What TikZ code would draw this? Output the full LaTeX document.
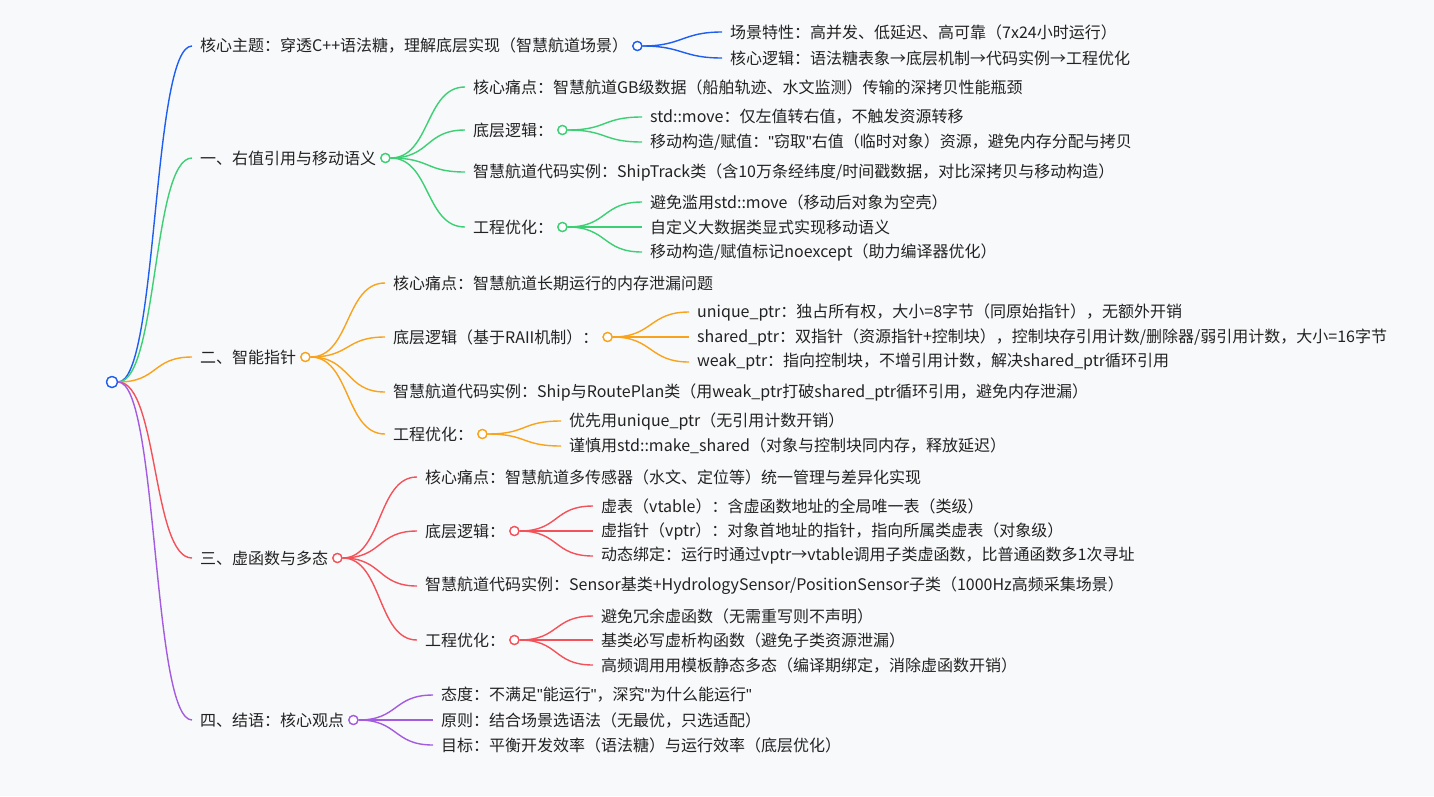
\documentclass[tikz,border=0pt]{standalone}
\usepackage{fontspec}
\setmainfont{Noto Sans CJK SC}
\newfontfamily\qf{Liberation Sans}
\newcommand{\q}{{\qf\symbol{34}}}
\definecolor{cb}{HTML}{1F5FF0}
\definecolor{cg}{HTML}{3CCF74}
\definecolor{co}{HTML}{F8A31B}
\definecolor{cr}{HTML}{F4525A}
\definecolor{cp}{HTML}{A35CE0}
\definecolor{tx}{HTML}{222222}
\definecolor{bg}{HTML}{F8F9FB}
\newcommand{\mt}[4]{\node[txt] (#1) at (#2,#3) {#4};}
\newcommand{\mc}[3]{\node[dot,draw=#3] (#1c) at ([xshift=9]#1.east) {};}
\newcommand{\me}[3]{\draw[edge,#3] (#1.east) .. controls +(40,0) and +(-40,0) .. ([xshift=-8]#2.west);}
\begin{document}
\begin{tikzpicture}[x=1pt,y=-1pt,
  txt/.style={anchor=west,inner sep=0pt,font=\fontsize{16pt}{18pt}\selectfont,text=tx},
  dot/.style={circle,fill=white,line width=1.3pt,minimum size=9pt,inner sep=0pt},
  edge/.style={line width=1.4pt}]
\fill[bg] (0,0) rectangle (1434,796);
\useasboundingbox (0,0) rectangle (1434,796);
% level 1
\mt{a}{200}{46}{核心主题：穿透C++语法糖，理解底层实现（智慧航道场景）}
\mt{b}{200}{158}{一、右值引用与移动语义}
\mt{c}{200}{357}{二、智能指针}
\mt{d}{200}{558}{三、虚函数与多态}
\mt{e}{200}{720}{四、结语：核心观点}
% branch a
\mt{a1}{730}{32}{场景特性：高并发、低延迟、高可靠（7x24小时运行）}
\mt{a2}{730}{58}{核心逻辑：语法糖表象→底层机制→代码实例→工程优化}
% branch b
\mt{b1}{473}{87}{核心痛点：智慧航道GB级数据（船舶轨迹、水文监测）传输的深拷贝性能瓶颈}
\mt{b2}{473}{130}{底层逻辑：}
\mt{b3}{473}{172}{智慧航道代码实例：ShipTrack类（含10万条经纬度/时间戳数据，对比深拷贝与移动构造）}
\mt{b4}{473}{227}{工程优化：}
\mt{b21}{650}{117}{std::move：仅左值转右值，不触发资源转移}
\mt{b22}{650}{142}{移动构造/赋值：\q 窃取\q 右值（临时对象）资源，避免内存分配与拷贝}
\mt{b41}{650}{202}{避免滥用std::move（移动后对象为空壳）}
\mt{b42}{650}{227}{自定义大数据类显式实现移动语义}
\mt{b43}{650}{252}{移动构造/赋值标记noexcept（助力编译器优化）}
% branch c
\mt{c1}{393}{283}{核心痛点：智慧航道长期运行的内存泄漏问题}
\mt{c2}{393}{337}{底层逻辑（基于RAII机制）：}
\mt{c3}{393}{392}{智慧航道代码实例：Ship与RoutePlan类（用weak\_ptr打破shared\_ptr循环引用，避免内存泄漏）}
\mt{c4}{393}{434}{工程优化：}
\mt{c21}{697}{312}{unique\_ptr：独占所有权，大小=8字节（同原始指针），无额外开销}
\mt{c22}{697}{337}{shared\_ptr：双指针（资源指针+控制块），控制块存引用计数/删除器/弱引用计数，大小=16字节}
\mt{c23}{697}{362}{weak\_ptr：指向控制块，不增引用计数，解决shared\_ptr循环引用}
\mt{c41}{569}{421}{优先用unique\_ptr（无引用计数开销）}
\mt{c42}{569}{446}{谨慎用std::make\_shared（对象与控制块同内存，释放延迟）}
% branch d
\mt{d1}{425}{477}{核心痛点：智慧航道多传感器（水文、定位等）统一管理与差异化实现}
\mt{d2}{425}{531}{底层逻辑：}
\mt{d3}{425}{586}{智慧航道代码实例：Sensor基类+HydrologySensor/PositionSensor子类（1000Hz高频采集场景）}
\mt{d4}{425}{640}{工程优化：}
\mt{d21}{601}{506}{虚表（vtable）：含虚函数地址的全局唯一表（类级）}
\mt{d22}{601}{531}{虚指针（vptr）：对象首地址的指针，指向所属类虚表（对象级）}
\mt{d23}{601}{556}{动态绑定：运行时通过vptr→vtable调用子类虚函数，比普通函数多1次寻址}
\mt{d41}{601}{616}{避免冗余虚函数（无需重写则不声明）}
\mt{d42}{601}{640}{基类必写虚析构函数（避免子类资源泄漏）}
\mt{d43}{601}{665}{高频调用用模板静态多态（编译期绑定，消除虚函数开销）}
% branch e
\mt{e1}{441}{695}{态度：不满足\q 能运行\q ，深究\q 为什么能运行\q}
\mt{e2}{441}{720}{原则：结合场景选语法（无最优，只选适配）}
\mt{e3}{441}{745}{目标：平衡开发效率（语法糖）与运行效率（底层优化）}
% circles (positions)
\mc{a}{}{cb}\mc{b}{}{cg}\mc{c}{}{co}\mc{d}{}{cr}\mc{e}{}{cp}
\mc{b2}{}{cg}\mc{b4}{}{cg}\mc{c2}{}{co}\mc{c4}{}{co}\mc{d2}{}{cr}\mc{d4}{}{cr}
% edges
\me{ac}{a1}{cb}\me{ac}{a2}{cb}
\me{bc}{b1}{cg}\me{bc}{b2}{cg}\me{bc}{b3}{cg}\me{bc}{b4}{cg}
\me{b2c}{b21}{cg}\me{b2c}{b22}{cg}
\me{b4c}{b41}{cg}\me{b4c}{b42}{cg}\me{b4c}{b43}{cg}
\me{cc}{c1}{co}\me{cc}{c2}{co}\me{cc}{c3}{co}\me{cc}{c4}{co}
\me{c2c}{c21}{co}\me{c2c}{c22}{co}\me{c2c}{c23}{co}
\me{c4c}{c41}{co}\me{c4c}{c42}{co}
\me{dc}{d1}{cr}\me{dc}{d2}{cr}\me{dc}{d3}{cr}\me{dc}{d4}{cr}
\me{d2c}{d21}{cr}\me{d2c}{d22}{cr}\me{d2c}{d23}{cr}
\me{d4c}{d41}{cr}\me{d4c}{d42}{cr}\me{d4c}{d43}{cr}
\me{ec}{e1}{cp}\me{ec}{e2}{cp}\me{ec}{e3}{cp}
% root
\node[dot,draw=cb,minimum size=11pt] (r) at (112,382) {};
\foreach \n/\col in {a/cb,b/cg,c/co,d/cr,e/cp}
  \draw[edge,\col] (r.east) .. controls +(40,0) and +(-40,0) .. ([xshift=-8]\n.west);
% redraw circles on top
\foreach \n/\col in {a/cb,b/cg,c/co,d/cr,e/cp,b2/cg,b4/cg,c2/co,c4/co,d2/cr,d4/cr}
  \node[dot,draw=\col] at (\n c) {};
\node[dot,draw=cb,minimum size=11pt] at (r) {};
\end{tikzpicture}
\end{document}
